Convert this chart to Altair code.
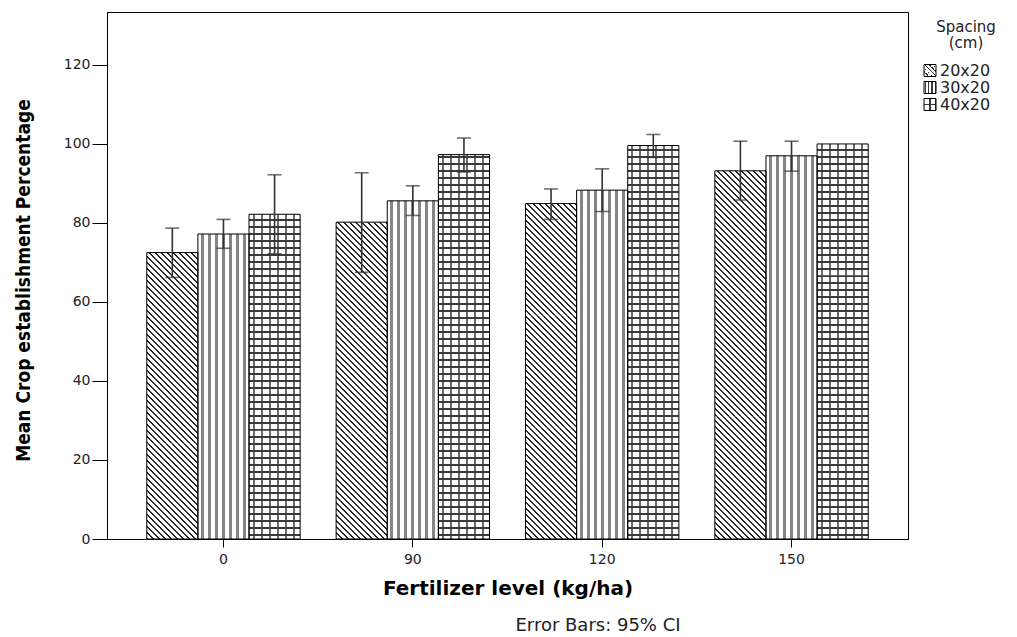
import altair as alt
import pandas as pd

# ---------------- data ----------------
fert = ["0", "90", "120", "150"]
spacing = ["20x20", "30x20", "40x20"]
mean_20 = [72.5, 80.2, 84.9, 93.2]
mean_30 = [77.2, 85.6, 88.3, 97.0]
mean_40 = [82.2, 97.3, 99.6, 100.0]
lo_20 = [66.2, 67.5, 80.9, 85.8]
lo_30 = [73.6, 81.9, 82.9, 93.1]
lo_40 = [72.2, 92.9, 96.6, 100.0]
hi_20 = [78.7, 92.7, 88.6, 100.7]
hi_30 = [80.9, 89.4, 93.7, 100.7]
hi_40 = [92.2, 101.5, 102.4, 100.0]
y_ticks = [0, 20, 40, 60, 80, 100, 120]
legend_title = ["Spacing", "(cm)"]
x_title = "Fertilizer level (kg/ha)"
y_title = "Mean Crop establishment Percentage"
note = "Error Bars: 95% CI"

means = [mean_20, mean_30, mean_40]
los = [lo_20, lo_30, lo_40]
his = [hi_20, hi_30, hi_40]
rows = []
for si, s in enumerate(spacing):
    for fi, f in enumerate(fert):
        rows.append(dict(fert=f, spacing=s, mean=means[si][fi],
                         lo=los[si][fi], hi=his[si][fi]))
df = pd.DataFrame(rows)
legend_df = pd.DataFrame({"spacing": spacing})
note_df = pd.DataFrame({"t": [note]})

# ---------------- geometry / styles ----------------
W, H = 801, 527
YMAX = 133.4
PI, PO = 0.19, 0.21
step = W / (len(fert) - PI + 2 * PO)
barw = step * (1 - PI) / len(spacing)
pxu = H / YMAX
CLEAR = "rgba(0,0,0,0)"
NARROW = "'Liberation Sans Narrow', 'DejaVu Sans Condensed', 'Roboto Condensed', 'Arial Narrow', 'DejaVu Sans', sans-serif"
NSEG = 3  # hatch gradients are split in pieces so each stays crisp


def stripe_stops(length, period, thick, phase, line, bg):
    st = [{"offset": 0, "color": bg}]
    pos = phase
    while pos < length:
        if pos + thick > 0:
            a = round(max(pos, 0) / length, 6)
            b = round(min(pos + thick, length) / length, 6)
            st += [{"offset": a, "color": bg}, {"offset": a, "color": line},
                   {"offset": b, "color": line}, {"offset": b, "color": bg}]
        pos += period
    st.append({"offset": 1, "color": bg})
    return st


def vert_grad(w, period, thick, phase, line, bg="white"):
    return {"gradient": "linear", "x1": 0, "y1": 0, "x2": 1, "y2": 0,
            "stops": stripe_stops(w, period, thick, phase, line, bg)}


def horiz_grad(h, period, thick, phase, line, bg=CLEAR):
    return {"gradient": "linear", "x1": 0, "y1": 1, "x2": 0, "y2": 0,
            "stops": stripe_stops(h, period, thick, phase, line, bg)}


def diag_grad(w, h, period, thick, phase, line, bg="white"):
    k = (w + h) / (w * w + h * h)
    return {"gradient": "linear", "x1": 0, "y1": 1,
            "x2": round(k * w, 7), "y2": round(1 - k * h, 7),
            "stops": stripe_stops(w + h, period, thick, phase, line, bg)}


X = alt.X("fert:N", scale=alt.Scale(domain=fert, paddingInner=PI, paddingOuter=PO),
          axis=alt.Axis(title=x_title, labelAngle=0, tickSize=8, labelPadding=5,
                        labelFont="DejaVu Sans", labelFontSize=14, labelColor="#222",
                        domainColor="black", tickColor="black",
                        titleFont="DejaVu Sans", titleFontSize=20, titleFontWeight="bold",
                        titleColor="black", titleX=W / 2, titleY=55, titleAlign="center",
                        titleBaseline="alphabetic"))
XO = alt.XOffset("spacing:N", scale=alt.Scale(domain=spacing, paddingInner=0, paddingOuter=0))
Y = alt.Y("mean:Q", scale=alt.Scale(domain=[0, YMAX], nice=False, zero=True),
          axis=alt.Axis(title=y_title, values=y_ticks, grid=False, tickSize=15,
                        labelPadding=2, labelFont="DejaVu Sans", labelFontSize=14,
                        labelColor="#222", domainColor="black", tickColor="black",
                        titleFont=NARROW, titleFontSize=19,
                        titleFontWeight="bold", titleColor="black", titleAngle=270,
                        titleX=-78, titleY=268, titleAlign="center",
                        titleBaseline="alphabetic"))

base = alt.Chart(df)
layers = []


def bar_piece(f, s, j):
    """piece j (from the bottom) of the bar for fertilizer f and spacing s"""
    return base.transform_filter(
        (alt.datum.fert == f) & (alt.datum.spacing == s)
    ).transform_calculate(
        p0=f"datum.mean * {j} / {NSEG}", p1=f"datum.mean * {j + 1} / {NSEG}"
    )


# 20x20 diagonal hatch, continuous across pieces (integer widths/periods keep
# every line equally dark when sampled on the pixel grid)
DP, DT, DPH = 6.0, 2.0, 1.0
for fi, f in enumerate(fert):
    h = mean_20[fi] * pxu
    hs = h / NSEG
    for j in range(NSEG):
        top_off = h - (j + 1) * hs
        ph = ((DPH + top_off + hs) % DP) - DP
        layers.append(bar_piece(f, "20x20", j).mark_bar(
            fill=diag_grad(barw, hs, DP, DT, ph, "#2a2a2a"), strokeWidth=0
        ).encode(x=X, xOffset=XO, y=alt.Y("p1:Q"), y2="p0:Q"))

# 30x20 vertical stripes
layers.append(base.transform_filter(alt.datum.spacing == "30x20").mark_bar(
    fill=vert_grad(barw, 7.0, 3.0, 3.0, "#858585"), strokeWidth=0
).encode(x=X, xOffset=XO, y=Y))

# 40x20 grid: vertical lines + horizontal lines
layers.append(base.transform_filter(alt.datum.spacing == "40x20").mark_bar(
    fill=vert_grad(barw, 8.0, 2.0, 3.5, "#6a6a6a"), strokeWidth=0
).encode(x=X, xOffset=XO, y=Y))
HP, HT, HPH = 7.0, 2.0, 3.0
for fi, f in enumerate(fert):
    h = mean_40[fi] * pxu
    hs = h / NSEG
    for j in range(NSEG):
        ph = ((HPH - j * hs) % HP) - HP
        layers.append(bar_piece(f, "40x20", j).mark_bar(
            fill=horiz_grad(hs, HP, HT, ph, "#3a3a3a"), strokeWidth=0
        ).encode(x=X, xOffset=XO, y=alt.Y("p1:Q"), y2="p0:Q"))

# outlines
layers.append(base.mark_bar(fill=CLEAR, stroke="black", strokeWidth=1).encode(
    x=X, xOffset=XO, y=Y))

# error bars
err = base.transform_filter(alt.datum.hi > alt.datum.lo)
layers.append(err.mark_rule(color="#333333", strokeWidth=1.6).encode(
    x=X, xOffset=XO, y=alt.Y("lo:Q"), y2="hi:Q"))
layers.append(err.mark_tick(color="#333333", thickness=1.6, size=14).encode(
    x=X, xOffset=XO, y=alt.Y("lo:Q")))
layers.append(err.mark_tick(color="#333333", thickness=1.6, size=14).encode(
    x=X, xOffset=XO, y=alt.Y("hi:Q")))

# legend (drawn manually so that the symbols carry the hatch patterns)
LX = 817
LY = [58.5, 75.5, 92.5]
SQ = 12
leg_fills = [
    diag_grad(SQ, SQ, 4.0, 1.0, 0.5, "#2e2e2e"),
    vert_grad(SQ, 3.2, 1.3, 1.0, "#3a3a3a"),
    None,
]
for i, s in enumerate(spacing):
    src = alt.Chart(legend_df).transform_filter(alt.datum.spacing == s)
    pos = dict(x=alt.value(LX), x2=alt.value(LX + SQ),
               y=alt.value(LY[i] - SQ / 2), y2=alt.value(LY[i] + SQ / 2))
    if leg_fills[i] is not None:
        layers.append(src.mark_rect(fill=leg_fills[i], stroke="black", strokeWidth=1).encode(**pos))
    else:
        layers.append(src.mark_rect(fill=vert_grad(SQ, 6, 1.4, 5.3, "#3a3a3a"),
                                    strokeWidth=0).encode(**pos))
        layers.append(src.mark_rect(fill=horiz_grad(SQ, 6, 1.4, 5.3, "#3a3a3a"),
                                    stroke="black", strokeWidth=1).encode(**pos))
    layers.append(src.mark_text(align="left", baseline="middle", font="DejaVu Sans",
                                fontSize=16, color="#222").encode(
        x=alt.value(LX + SQ + 4), y=alt.value(LY[i]), text="spacing:N"))

layers.append(alt.Chart(legend_df).transform_filter(alt.datum.spacing == spacing[0]).mark_text(
    align="center", baseline="alphabetic", font="DejaVu Sans", fontSize=15, lineHeight=16,
    color="#222").encode(x=alt.value(859), y=alt.value(20), text=alt.value(legend_title)))

layers.append(alt.Chart(note_df).mark_text(
    align="center", baseline="alphabetic", font="DejaVu Sans", fontSize=18,
    color="#222").encode(x=alt.value(491), y=alt.value(619), text="t:N"))

chart = alt.layer(*layers).properties(
    width=W, height=H,
    autosize=alt.AutoSizeParams(type="none"),
    padding={"left": 99, "top": 4, "right": 101, "bottom": 98},
    background="white",
).configure_view(stroke="black", strokeWidth=1)

chart.save("out.html", embed_options={"renderer": "svg", "actions": False})
